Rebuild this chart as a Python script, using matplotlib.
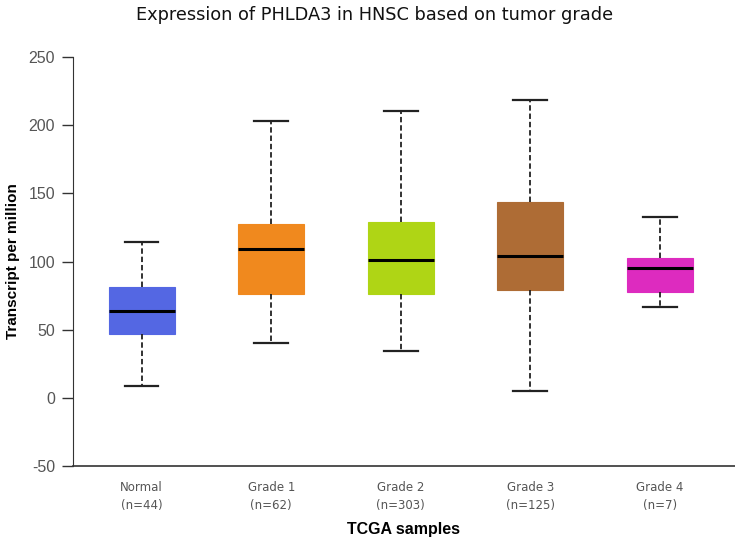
import matplotlib
matplotlib.use('Agg')
import matplotlib.pyplot as plt

plt.rcParams['axes.unicode_minus'] = False

# --- data ---
groups = ['Normal', 'Grade 1', 'Grade 2', 'Grade 3', 'Grade 4']
counts = [44, 62, 303, 125, 7]
whisker_low = [8.8, 40.3, 34.5, 5.0, 66.8]
q1 = [47.0, 76.3, 76.0, 79.0, 77.8]
median = [63.8, 109.0, 101.0, 104.0, 95.0]
q3 = [81.4, 127.7, 129.0, 143.8, 102.7]
whisker_high = [114.4, 203.0, 210.6, 218.6, 132.8]
colors = ['#5467E3', '#F0891E', '#AFD515', '#AE6C35', '#DD2BBF']

stats = []
for i, g in enumerate(groups):
    stats.append({'label': g, 'whislo': whisker_low[i], 'q1': q1[i], 'med': median[i],
                  'q3': q3[i], 'whishi': whisker_high[i], 'fliers': []})

fig = plt.figure(figsize=(7.35, 5.46), dpi=100)
ax = fig.add_axes([0.0993, 0.1465, 0.9007, 0.749])

positions = list(range(1, len(groups) + 1))
bp = ax.bxp(stats, positions=positions, widths=0.51, patch_artist=True, showfliers=False,
            boxprops=dict(linewidth=0.8),
            medianprops=dict(color='black', linewidth=2.2),
            whiskerprops=dict(color='#222222', linestyle=(0, (3, 1.6)), linewidth=1.3),
            capprops=dict(color='#222222', linewidth=1.6),
            capwidths=0.26)
for patch, c in zip(bp['boxes'], colors):
    patch.set_facecolor(c)
    patch.set_edgecolor(c)

ax.set_xlim(0.47, 5.58)
ax.set_ylim(-50, 250)
ax.set_yticks([-50, 0, 50, 100, 150, 200, 250])
ax.set_xticks(positions)
ax.set_xticklabels([f'{g}\n(n={n})' for g, n in zip(groups, counts)],
                   fontsize=8.5, color='#555555', family='DejaVu Sans', linespacing=1.45)
ax.tick_params(axis='x', length=0, pad=11)
ax.tick_params(axis='y', direction='out', length=8, width=1, color='#333333',
               labelsize=11.5, labelcolor='#555555', pad=5)
for lab in ax.get_yticklabels():
    lab.set_family('Liberation Sans')

ax.spines['top'].set_visible(False)
ax.spines['right'].set_visible(False)
ax.spines['left'].set_color('#333333')
ax.spines['bottom'].set_color('#333333')
ax.spines['bottom'].set_linewidth(1.2)

ax.set_ylabel('Transcript per million', fontsize=11, fontweight='bold',
              family='Liberation Sans', labelpad=6)
ax.set_xlabel('TCGA samples', fontsize=11.5, fontweight='bold',
              family='Liberation Sans', labelpad=7)
fig.text(0.51, 0.972, 'Expression of PHLDA3 in HNSC based on tumor grade',
         ha='center', va='center', fontsize=12.8, family='DejaVu Sans', color='#111111')

fig.savefig('out.png', dpi=100)
